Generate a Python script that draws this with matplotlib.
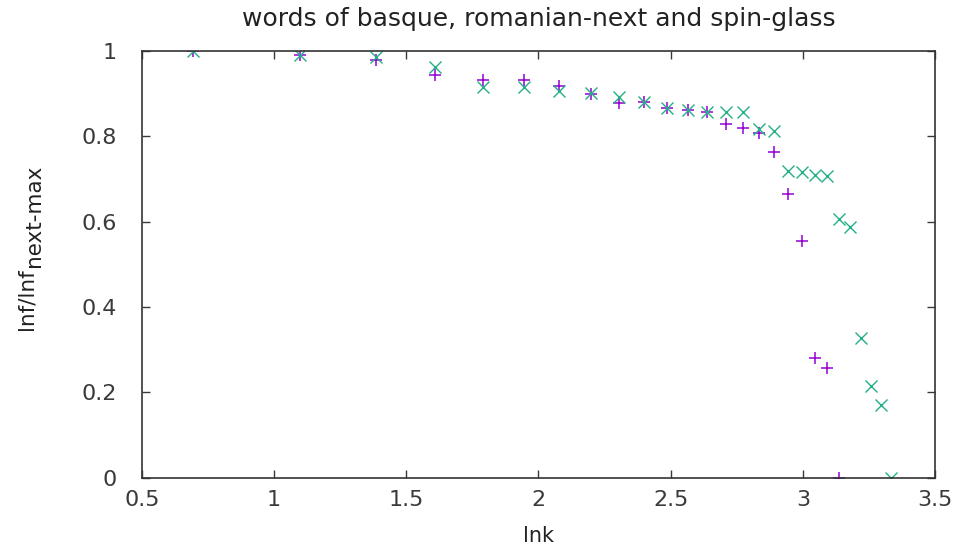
import matplotlib
matplotlib.use("Agg")
import matplotlib.pyplot as plt
from matplotlib.ticker import FuncFormatter
from matplotlib.transforms import IdentityTransform

# ln k values
x_basque = [0.693, 1.099, 1.386, 1.609, 1.792, 1.946, 2.079, 2.197, 2.303, 2.398,
            2.485, 2.565, 2.639, 2.708, 2.773, 2.833, 2.890, 2.944, 2.996, 3.045,
            3.091, 3.135]
y_basque = [1.0, 0.99, 0.98, 0.944, 0.932, 0.932, 0.918, 0.90, 0.878, 0.88,
            0.866, 0.862, 0.857, 0.829, 0.82, 0.808, 0.763, 0.665, 0.555, 0.281,
            0.258, 0.0]

x_spin = [0.693, 1.099, 1.386, 1.609, 1.792, 1.946, 2.079, 2.197, 2.303, 2.398,
          2.485, 2.565, 2.639, 2.708, 2.773, 2.833, 2.890, 2.944, 2.996, 3.045,
          3.091, 3.135, 3.178, 3.219, 3.258, 3.296, 3.332]
y_spin = [1.0, 0.99, 0.985, 0.962, 0.916, 0.916, 0.906, 0.902, 0.893, 0.88,
          0.866, 0.862, 0.857, 0.857, 0.857, 0.818, 0.812, 0.719, 0.717, 0.71,
          0.707, 0.607, 0.588, 0.328, 0.215, 0.171, 0.0]

xticks = [0.5, 1, 1.5, 2, 2.5, 3, 3.5]
yticks = [0, 0.2, 0.4, 0.6, 0.8, 1]

plt.rcParams['font.family'] = ['DejaVu Sans']
fig = plt.figure(figsize=(9.59, 5.48), dpi=100)
ax = fig.add_axes([0.148, 0.128, 0.827, 0.779])

ax.plot(x_basque, y_basque, linestyle='none', marker='+', markersize=9,
        markeredgewidth=1.1, color='#9400D3')
ax.plot(x_spin, y_spin, linestyle='none', marker='x', markersize=8,
        markeredgewidth=1.0, color='#22B087')

ax.set_xlim(0.5, 3.5)
ax.set_ylim(0, 1)
ax.set_xticks(xticks)
ax.set_yticks(yticks)
fmt = FuncFormatter(lambda v, p: ('%g' % v))
ax.xaxis.set_major_formatter(fmt)
ax.yaxis.set_major_formatter(fmt)
ax.tick_params(direction='in', length=6, width=1, top=True, right=True,
               labelsize=16, colors='#3a3a3a')
ax.tick_params(axis='x', pad=9)
ax.tick_params(axis='y', pad=18)
for s in ax.spines.values():
    s.set_linewidth(1.2)
    s.set_color('#333333')

ax.set_title('words of basque, romanian-next and spin-glass', fontsize=18,
             color='#222222', pad=18)
ax.set_xlabel('lnk', fontsize=15, color='#222222', labelpad=11)

# y label: main part + lowered subscript (gnuplot style, large subscript)
H = fig.bbox.height
t1 = fig.text(33, H - 330, 'lnf/lnf', rotation=90, rotation_mode='anchor',
              ha='left', va='baseline', fontsize=15.5, color='#222222',
              transform=IdentityTransform())
fig.canvas.draw()
bb = t1.get_window_extent()
fig.text(40, bb.y1 + 1, 'next-max', rotation=90, rotation_mode='anchor',
         ha='left', va='baseline', fontsize=15.5, color='#222222',
         transform=IdentityTransform())

fig.savefig('out.png', dpi=100)
